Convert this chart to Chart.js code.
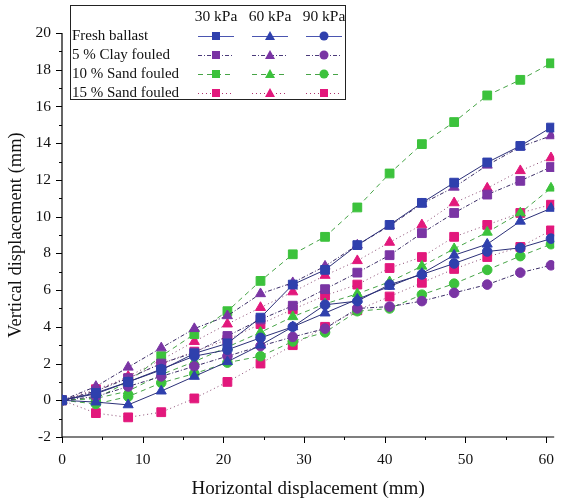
<!DOCTYPE html>
<html>
<head>
<meta charset="utf-8">
<script src="https://cdn.jsdelivr.net/npm/chart.js@4.4.0/dist/chart.umd.min.js"></script>
<style>
  html, body { margin: 0; padding: 0; background: #fff; }
  #wrap { width: 568px; height: 502px; }
</style>
</head>
<body>
<div id="wrap"><canvas id="chart" width="568" height="502"></canvas></div>
<script>
// horizontal displacement (mm) where readings were taken
const xs = [0, 4.2, 8.2, 12.3, 16.4, 20.5, 24.6, 28.6, 32.6, 36.6, 40.6, 44.6, 48.6, 52.7, 56.8, 60.6];

// vertical displacement (mm), one list per ballast condition / pressure
const fresh30 = [0, 0.4, 1.0, 1.65, 2.55, 3.1, 4.5, 6.3, 7.1, 8.45, 9.55, 10.75, 11.85, 12.95, 13.85, 14.85];
const fresh60 = [0, -0.1, -0.25, 0.5, 1.3, 2.1, 3.0, 4.0, 4.75, 5.5, 6.2, 6.9, 7.9, 8.5, 9.75, 10.45];
const fresh90 = [0, 0.35, 1.0, 1.7, 2.4, 2.75, 3.4, 4.0, 5.2, 5.4, 6.3, 6.85, 7.45, 8.1, 8.3, 8.8];
const clay30 = [0, 0.5, 1.2, 2.0, 2.6, 3.5, 4.4, 5.15, 6.05, 6.95, 7.9, 9.1, 10.2, 11.2, 11.95, 12.7];
const clay60 = [0, 0.75, 1.8, 2.85, 3.9, 4.6, 5.8, 6.4, 7.3, 8.45, 9.5, 10.7, 11.6, 12.8, 13.8, 14.4];
const clay90 = [0, 0.2, 0.75, 1.3, 1.85, 2.4, 2.95, 3.45, 3.9, 5.0, 5.1, 5.4, 5.85, 6.3, 6.95, 7.35];
const sand10_30 = [0, 0.1, 1.0, 2.4, 3.6, 4.85, 6.5, 7.95, 8.9, 10.5, 12.35, 13.95, 15.15, 16.6, 17.45, 18.35];
const sand10_60 = [0, 0.1, 0.5, 1.4, 2.1, 2.9, 3.7, 4.55, 5.25, 5.8, 6.45, 7.3, 8.25, 9.15, 10.2, 11.55];
const sand10_90 = [0, -0.2, 0.2, 0.95, 1.45, 2.05, 2.4, 3.2, 3.7, 4.85, 5.0, 5.75, 6.35, 7.1, 7.85, 8.5];
const sand15_30 = [0, -0.7, -0.93, -0.65, 0.1, 1.0, 2.0, 3.0, 4.0, 4.9, 5.65, 6.4, 7.15, 7.8, 8.35, 9.25];
const sand15_60 = [0, 0.5, 1.3, 2.2, 3.2, 4.15, 5.05, 5.9, 6.8, 7.6, 8.6, 9.55, 10.75, 11.55, 12.5, 13.2];
const sand15_90 = [0, 0.6, 1.2, 2.0, 2.65, 3.3, 4.15, 4.95, 5.7, 6.3, 7.2, 7.8, 8.9, 9.55, 10.2, 10.65];

const groupNames = ["Fresh ballast", "5 % Clay fouled", "10 % Sand fouled", "15 % Sand fouled"];
const pressureLabels = ["30 kPa", "60 kPa", "90 kPa"];
const xTicks = [0, 10, 20, 30, 40, 50, 60];
const yTicks = [-2, 0, 2, 4, 6, 8, 10, 12, 14, 16, 18, 20];

const SERIF = "'Liberation Serif', 'DejaVu Serif', serif";

// look of each group (line) and marker colour
const groups = [
  { data: [fresh30, fresh60, fresh90], line: "#2c3078", legendLine: "#4a55b0", dash: [], marker: "#2f40ad", shapes: ["rect", "triangle", "circle"] },
  { data: [clay30, clay60, clay90], line: "#3a2c66", legendLine: "#4a3a7a", dash: [4, 2, 1, 2], marker: "#7a35a4", shapes: ["rect", "triangle", "circle"] },
  { data: [sand10_30, sand10_60, sand10_90], line: "#47a447", legendLine: "#47a447", dash: [5, 4], marker: "#3cc23c", shapes: ["rect", "triangle", "circle"] },
  { data: [sand15_30, sand15_60, sand15_90], line: "#8a4a72", legendLine: "#b0306e", dash: [1, 3], marker: "#e2187c", shapes: ["rect", "triangle", "rect"] }
];

function radiusFor(shape) {
  if (shape === "rect") return 6.2;
  if (shape === "triangle") return 5.8;
  return 4.8;
}

const datasets = [];
groups.forEach((g, gi) => {
  g.data.forEach((vals, pi) => {
    datasets.push({
      label: groupNames[gi] + " " + pressureLabels[pi],
      data: vals.map((v, i) => ({ x: xs[i], y: v })),
      borderColor: g.line,
      borderWidth: 1,
      borderDash: g.dash,
      backgroundColor: g.marker,
      pointStyle: g.shapes[pi],
      pointRadius: radiusFor(g.shapes[pi]),
      pointBackgroundColor: g.marker,
      pointBorderColor: g.marker,
      pointBorderWidth: 1,
      fill: false,
      tension: 0
    });
  });
});

// axes lines plus major/minor ticks
const axesPlugin = {
  id: "axesTicks",
  beforeDatasetsDraw(chart) {
    const ctx = chart.ctx;
    const x = chart.scales.x, y = chart.scales.y;
    const a = chart.chartArea;
    ctx.save();
    ctx.strokeStyle = "#000";
    ctx.lineWidth = 1.2;
    ctx.beginPath();
    ctx.moveTo(a.left, a.top);
    ctx.lineTo(a.left, a.bottom);
    ctx.lineTo(a.right, a.bottom);
    ctx.stroke();
    ctx.lineWidth = 1;
    for (let v = -2; v <= 20; v += 1) {
      const py = Math.round(y.getPixelForValue(v)) + 0.5;
      const len = v % 2 === 0 ? 6 : 3;
      ctx.beginPath();
      ctx.moveTo(a.left - len, py);
      ctx.lineTo(a.left, py);
      ctx.stroke();
    }
    for (let v = 0; v <= 60; v += 5) {
      const px = Math.round(x.getPixelForValue(v)) + 0.5;
      const len = v % 10 === 0 ? 6 : 3;
      ctx.beginPath();
      ctx.moveTo(px, a.bottom);
      ctx.lineTo(px, a.bottom + len);
      ctx.stroke();
    }
    ctx.restore();
  }
};

function drawMarker(ctx, shape, cx, cy, color) {
  ctx.fillStyle = color;
  ctx.beginPath();
  if (shape === "rect") {
    ctx.rect(cx - 4, cy - 4, 8, 8);
  } else if (shape === "triangle") {
    ctx.moveTo(cx, cy - 5);
    ctx.lineTo(cx + 5, cy + 4);
    ctx.lineTo(cx - 5, cy + 4);
    ctx.closePath();
  } else {
    ctx.arc(cx, cy, 4.5, 0, Math.PI * 2);
  }
  ctx.fill();
}

// boxed legend: rows are groups, columns are pressures
const legendPlugin = {
  id: "gridLegend",
  afterDraw(chart) {
    const ctx = chart.ctx;
    ctx.save();
    ctx.fillStyle = "#fff";
    ctx.fillRect(70, 5, 275, 94);
    ctx.strokeStyle = "#222";
    ctx.lineWidth = 1;
    ctx.strokeRect(70.5, 5.5, 275, 94);

    const cols = [216, 270, 324];
    ctx.font = "15.5px " + SERIF;
    ctx.fillStyle = "#111";
    ctx.textBaseline = "middle";
    ctx.textAlign = "center";
    pressureLabels.forEach((p, i) => ctx.fillText(p, cols[i], 17));

    const rows = [36, 55, 74, 93];
    ctx.font = "15px " + SERIF;
    groups.forEach((g, gi) => {
      ctx.textAlign = "left";
      ctx.fillStyle = "#111";
      ctx.fillText(groupNames[gi], 72, rows[gi]);
      cols.forEach((cx, pi) => {
        ctx.strokeStyle = g.legendLine;
        ctx.lineWidth = 1;
        ctx.setLineDash(g.dash);
        ctx.beginPath();
        ctx.moveTo(cx - 18, rows[gi] + 0.5);
        ctx.lineTo(cx + 18, rows[gi] + 0.5);
        ctx.stroke();
        ctx.setLineDash([]);
        drawMarker(ctx, g.shapes[pi], cx, rows[gi], g.marker);
      });
    });
    ctx.restore();
  }
};

const ctx = document.getElementById("chart").getContext("2d");
new Chart(ctx, {
  type: "line",
  data: { datasets: datasets },
  options: {
    responsive: false,
    animation: false,
    layout: { padding: { top: 33, right: 3, left: 0, bottom: 0 } },
    plugins: {
      legend: { display: false },
      tooltip: { enabled: false }
    },
    scales: {
      x: {
        type: "linear",
        min: 0,
        max: 61,
        grid: { display: false, drawTicks: false },
        border: { display: false },
        afterBuildTicks: (scale) => { scale.ticks = xTicks.map(v => ({ value: v })); },
        afterFit: (scale) => { scale.height = 65; },
        ticks: { color: "#111", padding: 14, font: { family: SERIF, size: 15.5 } },
        title: { display: true, text: "Horizontal displacement (mm)", color: "#111", padding: { top: 0, bottom: 2 }, font: { family: SERIF, size: 19 } }
      },
      y: {
        type: "linear",
        min: -2,
        max: 20,
        grid: { display: false, drawTicks: false },
        border: { display: false },
        afterBuildTicks: (scale) => { scale.ticks = yTicks.map(v => ({ value: v })); },
        afterFit: (scale) => { scale.width = 62; },
        ticks: { color: "#111", padding: 11, font: { family: SERIF, size: 15.5 } },
        title: { display: true, text: "Vertical displacement (mm)", color: "#111", padding: { top: 5, bottom: 0 }, font: { family: SERIF, size: 18.5 } }
      }
    }
  },
  plugins: [axesPlugin, legendPlugin]
});
</script>
</body>
</html>
